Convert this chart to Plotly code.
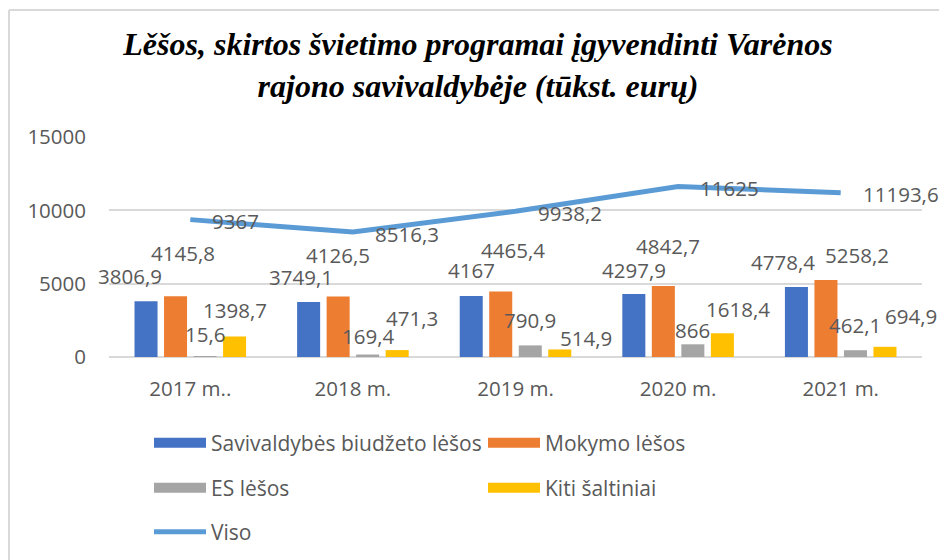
import plotly.graph_objects as go

# ---- data ----
categories = ["2017 m..", "2018 m.", "2019 m.", "2020 m.", "2021 m."]
savivaldybes = [3806.9, 3749.1, 4167, 4297.9, 4778.4]
mokymo = [4145.8, 4126.5, 4465.4, 4842.7, 5258.2]
es = [15.6, 169.4, 790.9, 866, 462.1]
kiti = [1398.7, 471.3, 514.9, 1618.4, 694.9]
viso = [9367, 8516.3, 9938.2, 11625, 11193.6]

names = ["Savivaldybės biudžeto lėšos", "Mokymo lėšos", "ES lėšos", "Kiti šaltiniai"]
series = [savivaldybes, mokymo, es, kiti]
colors = ["#4472c4", "#ed7d31", "#a5a5a5", "#ffc000"]
line_color = "#5b9bd5"

# ---- style / label placement (pixels) ----
# the page body adds an 8px margin, so the figure is 8px smaller
W, H = 939, 552
ML, MR, MT, MB = 101, 25, 129, 203
slot_px = 29.5
slot_off = [-1.5, -0.5, 0.5, 1.5]
label_dx = [[-16, -8, 0, 0, -13], [7, 0, 12, 5, 31], [0, 0, 0, 0, 0], [0, 15, 26, 16, 26]]
label_dy = [[25, 25, 26, 24, 25], [43, 41, 42, 40, 25], [23, 19, 25, 14, 25], [26, 32, 11, 24, 31]]

FONT = "Open Sans"
TXT = "#595959"
FS = 20.5


def fmt(v):
    return ("%g" % v).replace(".", ",")


fig = go.Figure()
for s, name, col in zip(series, names, colors):
    fig.add_trace(go.Bar(x=categories, y=s, name=name, marker_color=col,
                         marker_line_width=0, showlegend=False))

fig.add_trace(go.Scatter(x=categories, y=viso, mode="lines", name="Viso",
                         line=dict(color=line_color, width=5), showlegend=False))

# legend entries (wide rectangular swatches)
legend_of = ["legend", "legend", "legend2", "legend2"]
for name, col, lg in zip(names, colors, legend_of):
    fig.add_trace(go.Scatter(x=[None], y=[None], mode="lines", name=name,
                             line=dict(color=col, width=12), legend=lg))
fig.add_trace(go.Scatter(x=[None], y=[None], mode="lines", name="Viso",
                         line=dict(color=line_color, width=5), legend="legend3"))

ann = []
for i, s in enumerate(series):
    for j, v in enumerate(s):
        ann.append(dict(x=categories[j], y=v, text=fmt(v), showarrow=False,
                        xshift=slot_off[i] * slot_px + label_dx[i][j],
                        yshift=label_dy[i][j], yanchor="middle",
                        font=dict(family=FONT, size=FS, color=TXT)))
for j, v in enumerate(viso):
    ann.append(dict(x=categories[j], y=v, text=fmt(v), showarrow=False,
                    xanchor="left", xshift=20, yshift=-1.5, yanchor="middle",
                    font=dict(family=FONT, size=FS, color=TXT)))

pw = W - ML - MR
ph = H - MT - MB


def px_x(p):
    return (p - ML) / pw


def px_y(p):
    return (H - MB - p) / ph


shapes = [
    dict(type="line", xref="paper", yref="paper", x0=px_x(1), x1=px_x(960),
         y0=px_y(2), y1=px_y(2), line=dict(color="#d9d9d9", width=2)),
    dict(type="line", xref="paper", yref="paper", x0=px_x(1), x1=px_x(1),
         y0=px_y(2), y1=px_y(580), line=dict(color="#d9d9d9", width=2)),
]

leg_common = dict(orientation="h", xanchor="left", yanchor="middle",
                  xref="container", yref="container",
                  entrywidth=267, entrywidthmode="pixels", itemwidth=52,
                  font=dict(family=FONT, size=21, color=TXT),
                  bgcolor="rgba(0,0,0,0)", itemclick=False)

fig.update_layout(
    width=W, height=H,
    margin=dict(l=ML, r=MR, t=MT, b=MB, autoexpand=False),
    paper_bgcolor="white", plot_bgcolor="white",
    barmode="group", bargap=0.274, bargroupgap=0.22,
    title=dict(text="Lěšos, skirtos švietimo programai įgyvendinti Varėnos<br>rajono savivaldybėje (tūkst. eurų)",
               x=470 / W, xanchor="center", xref="container",
               y=1 - 47 / H, yanchor="top", yref="container",
               font=dict(family="Liberation Serif", size=32, color="black",
                         weight="bold", style="italic")),
    xaxis=dict(range=[-0.5, 4.5], showgrid=False, showline=False, ticks="", zeroline=False,
               automargin=False,
               tickfont=dict(family=FONT, size=FS, color=TXT), ticklabelstandoff=17),
    yaxis=dict(range=[0, 15000], dtick=5000, tickformat="d", automargin=False,
               showgrid=True, gridcolor="#d9d9d9", gridwidth=1.5,
               zeroline=True, zerolinecolor="#d9d9d9", zerolinewidth=1.5,
               showline=False, ticks="",
               tickfont=dict(family=FONT, size=FS, color=TXT), ticklabelstandoff=22),
    legend=dict(x=141 / W, y=1 - 435 / H, **leg_common),
    legend2=dict(x=141 / W, y=1 - 480 / H, **leg_common),
    legend3=dict(x=141 / W, y=1 - 524 / H, **leg_common),
    annotations=ann,
    shapes=shapes,
    showlegend=True,
)

fig.write_html("out.html")
